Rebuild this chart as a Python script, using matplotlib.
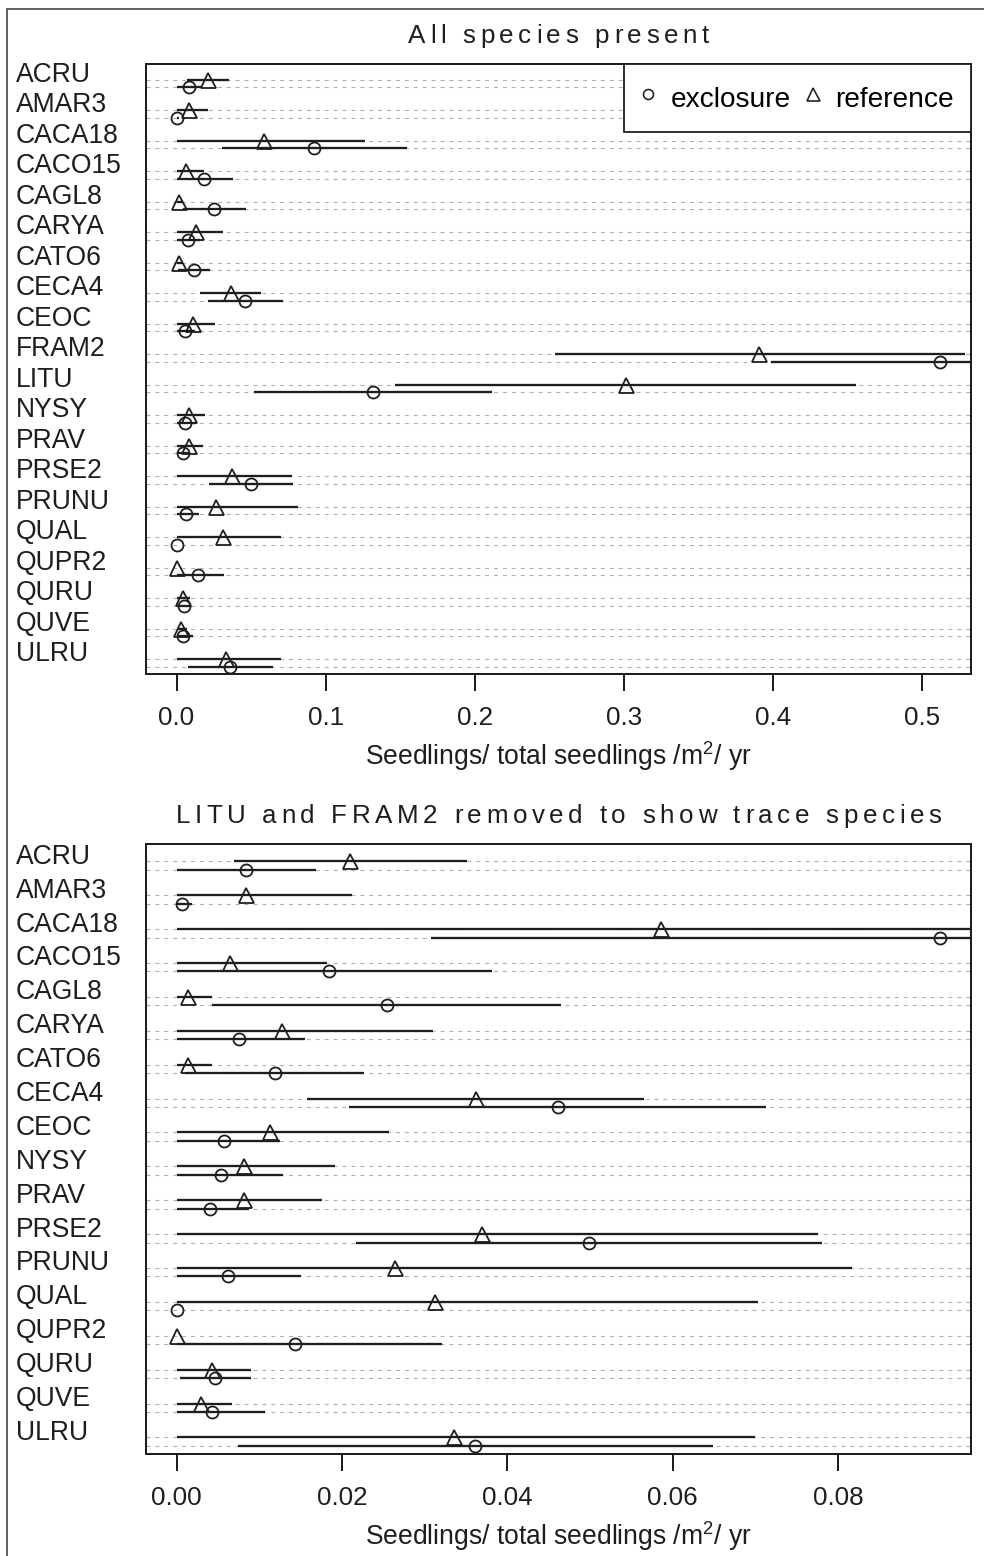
import matplotlib
matplotlib.use('Agg')
import numpy as np
import matplotlib.pyplot as plt
import matplotlib.transforms as mtransforms
from matplotlib.lines import Line2D
from matplotlib.patches import Rectangle
from matplotlib.font_manager import FontProperties

plt.rcParams['font.family'] = ['Liberation Sans', 'DejaVu Sans']
plt.rcParams['mathtext.fontset'] = 'custom'
plt.rcParams['mathtext.rm'] = 'Liberation Sans'
plt.rcParams['mathtext.default'] = 'regular'

# values (seedlings / total seedlings / m2 / yr)
species = ['ACRU', 'AMAR3', 'CACA18', 'CACO15', 'CAGL8', 'CARYA', 'CATO6', 'CECA4',
           'CEOC', 'FRAM2', 'LITU', 'NYSY', 'PRAV', 'PRSE2', 'PRUNU', 'QUAL',
           'QUPR2', 'QURU', 'QUVE', 'ULRU']

ref_mean = [0.0210, 0.0084, 0.0586, 0.0065, 0.0014, 0.0128, 0.0014, 0.0362, 0.0113, 0.3908,
            0.3018, 0.0081, 0.0082, 0.0369, 0.0264, 0.0313, 0.0000, 0.0043, 0.0030, 0.0335]
ref_lo = [0.0070, 0.0, 0.0, 0.0, 0.0, 0.0, 0.0, 0.0158, 0.0, 0.2542,
          0.1468, 0.0, 0.0, 0.0, 0.0, 0.0, 0.0, 0.0, 0.0, 0.0]
ref_hi = [0.0351, 0.0212, 0.1266, 0.0182, 0.0043, 0.0310, 0.0043, 0.0566, 0.0257, 0.5289,
          0.4561, 0.0192, 0.0176, 0.0776, 0.0817, 0.0703, 0.0000, 0.0090, 0.0067, 0.0700]

excl_mean = [0.0084, 0.0006, 0.0924, 0.0185, 0.0254, 0.0075, 0.0119, 0.0461, 0.0057, 0.5125,
             0.1320, 0.0054, 0.0040, 0.0499, 0.0062, 0.0000, 0.0143, 0.0047, 0.0043, 0.0361]
excl_lo = [0.0, 0.0, 0.0308, 0.0, 0.0043, 0.0, 0.0010, 0.0208, 0.0, 0.3987,
           0.0519, 0.0, 0.0, 0.0217, 0.0, 0.0, 0.0, 0.0004, 0.0, 0.0074]
excl_hi = [0.0169, 0.0019, 0.1546, 0.0381, 0.0465, 0.0155, 0.0227, 0.0713, 0.0125, 0.6200,
           0.2119, 0.0129, 0.0088, 0.0781, 0.0151, 0.0000, 0.0321, 0.0090, 0.0107, 0.0649]

removed = ['LITU', 'FRAM2']

top_ticks = [0.0, 0.1, 0.2, 0.3, 0.4, 0.5]
top_ticklabels = ['0.0', '0.1', '0.2', '0.3', '0.4', '0.5']
bot_ticks = [0.0, 0.02, 0.04, 0.06, 0.08]
bot_ticklabels = ['0.00', '0.02', '0.04', '0.06', '0.08']

xlabel = 'Seedlings/ total seedlings /m$^2$/ yr'
title_top = 'All species present'
title_bot = 'LITU and FRAM2 removed to show trace species'

INK = '#1e1e1e'
W, H = 984, 1556
DPI = 72  # 1 pt == 1 px

fig = plt.figure(figsize=(W / DPI, H / DPI), dpi=DPI)


def px_axes(left, top, right, bottom):
    return fig.add_axes([left / W, 1 - bottom / H, (right - left) / W, (bottom - top) / H])


def tracked_title(ax, s, size, track):
    # R draws these titles letter-spaced; place glyphs one by one
    renderer = fig.canvas.get_renderer()
    prop = FontProperties(family='Liberation Sans', size=size)

    def width(t):
        return renderer.get_text_width_height_descent(t, prop, ismath=False)[0]

    total = width(s) + track * (len(s) - 1)
    bb = ax.get_position()
    xc = (bb.x0 + bb.x1) / 2 * W
    yb = bb.y1 * H + 21
    x0 = xc - total / 2
    for k, ch in enumerate(s):
        if ch == ' ':
            continue
        left = x0 + width(s[:k + 1]) - width(ch) + k * track
        fig.text(left / W, yb / H, ch, fontproperties=prop, ha='left', va='baseline', color=INK)


def panel(ax, idx, ticks, ticklabels):
    names = [species[i] for i in idx]
    rm = np.array(ref_mean)[idx]
    rl = np.array(ref_lo)[idx]
    rh = np.array(ref_hi)[idx]
    em = np.array(excl_mean)[idx]
    el = np.array(excl_lo)[idx]
    eh = np.array(excl_hi)[idx]
    n = len(names)
    y = np.arange(n)
    yr = y - 0.125
    ye = y + 0.125

    for yy in np.concatenate([yr, ye]):
        ax.axhline(yy, color='#b0b0b0', lw=1.1, dashes=(3.6, 4.5), zorder=1)

    ax.hlines(yr, rl, rh, color=INK, lw=2.3, zorder=2)
    ax.hlines(ye, el, eh, color=INK, lw=2.3, zorder=2)
    ax.plot(rm, yr, '^', ms=15, mfc='none', mec=INK, mew=1.8, zorder=3)
    ax.plot(em, ye, 'o', ms=12, mfc='none', mec=INK, mew=1.8, zorder=3)

    r = max(rm.max(), em.max())
    ax.set_xlim(-0.04 * r, 1.04 * r)
    ax.set_ylim(n - 0.635, -0.635)

    trans = mtransforms.blended_transform_factory(fig.transFigure, ax.transData)
    for i, name in enumerate(names):
        ax.text(16 / W, i - 0.05, name, transform=trans, ha='left', va='baseline',
                fontsize=26.5, color=INK)

    ax.set_yticks([])
    ax.set_xticks(ticks)
    ax.set_xticklabels(ticklabels)
    ax.tick_params(axis='x', direction='out', length=17, width=2, pad=15,
                   labelsize=26, colors=INK)
    for sp in ax.spines.values():
        sp.set_linewidth(2)
        sp.set_color(INK)

    ax.annotate(xlabel, xy=(0.5, 0), xycoords='axes fraction', xytext=(0, -91),
                textcoords='offset pixels', ha='center', va='baseline',
                fontsize=26.5, color=INK)


ax1 = px_axes(146, 64, 971, 674)
ax2 = px_axes(146, 844, 971, 1454)

panel(ax1, list(range(len(species))), top_ticks, top_ticklabels)
keep = [i for i, s in enumerate(species) if s not in removed]
panel(ax2, keep, bot_ticks, bot_ticklabels)

handles = [Line2D([], [], ls='none', marker='o', ms=10, mfc='none', mec=INK, mew=1.6),
           Line2D([], [], ls='none', marker='^', ms=13, mfc='none', mec=INK, mew=1.6)]
leg = ax1.legend(handles, ['exclosure', 'reference'], loc='upper right', ncol=2,
                 fontsize=28, frameon=True, fancybox=False, framealpha=1,
                 edgecolor=INK, borderaxespad=0, borderpad=0.6, handlelength=0.5,
                 handleheight=1.5, handletextpad=0.55, columnspacing=0.55)
leg.get_frame().set_linewidth(1.8)
leg.set_zorder(5)

tracked_title(ax1, title_top, 26, 4.6)
tracked_title(ax2, title_bot, 26, 4.6)

fig.add_artist(Rectangle((7 / W, -0.02), 1.1, 1 - 9 / H + 0.02, transform=fig.transFigure,
                         fill=False, lw=1.5, ec='#333333', clip_on=False))

fig.savefig('out.png', dpi=DPI)
